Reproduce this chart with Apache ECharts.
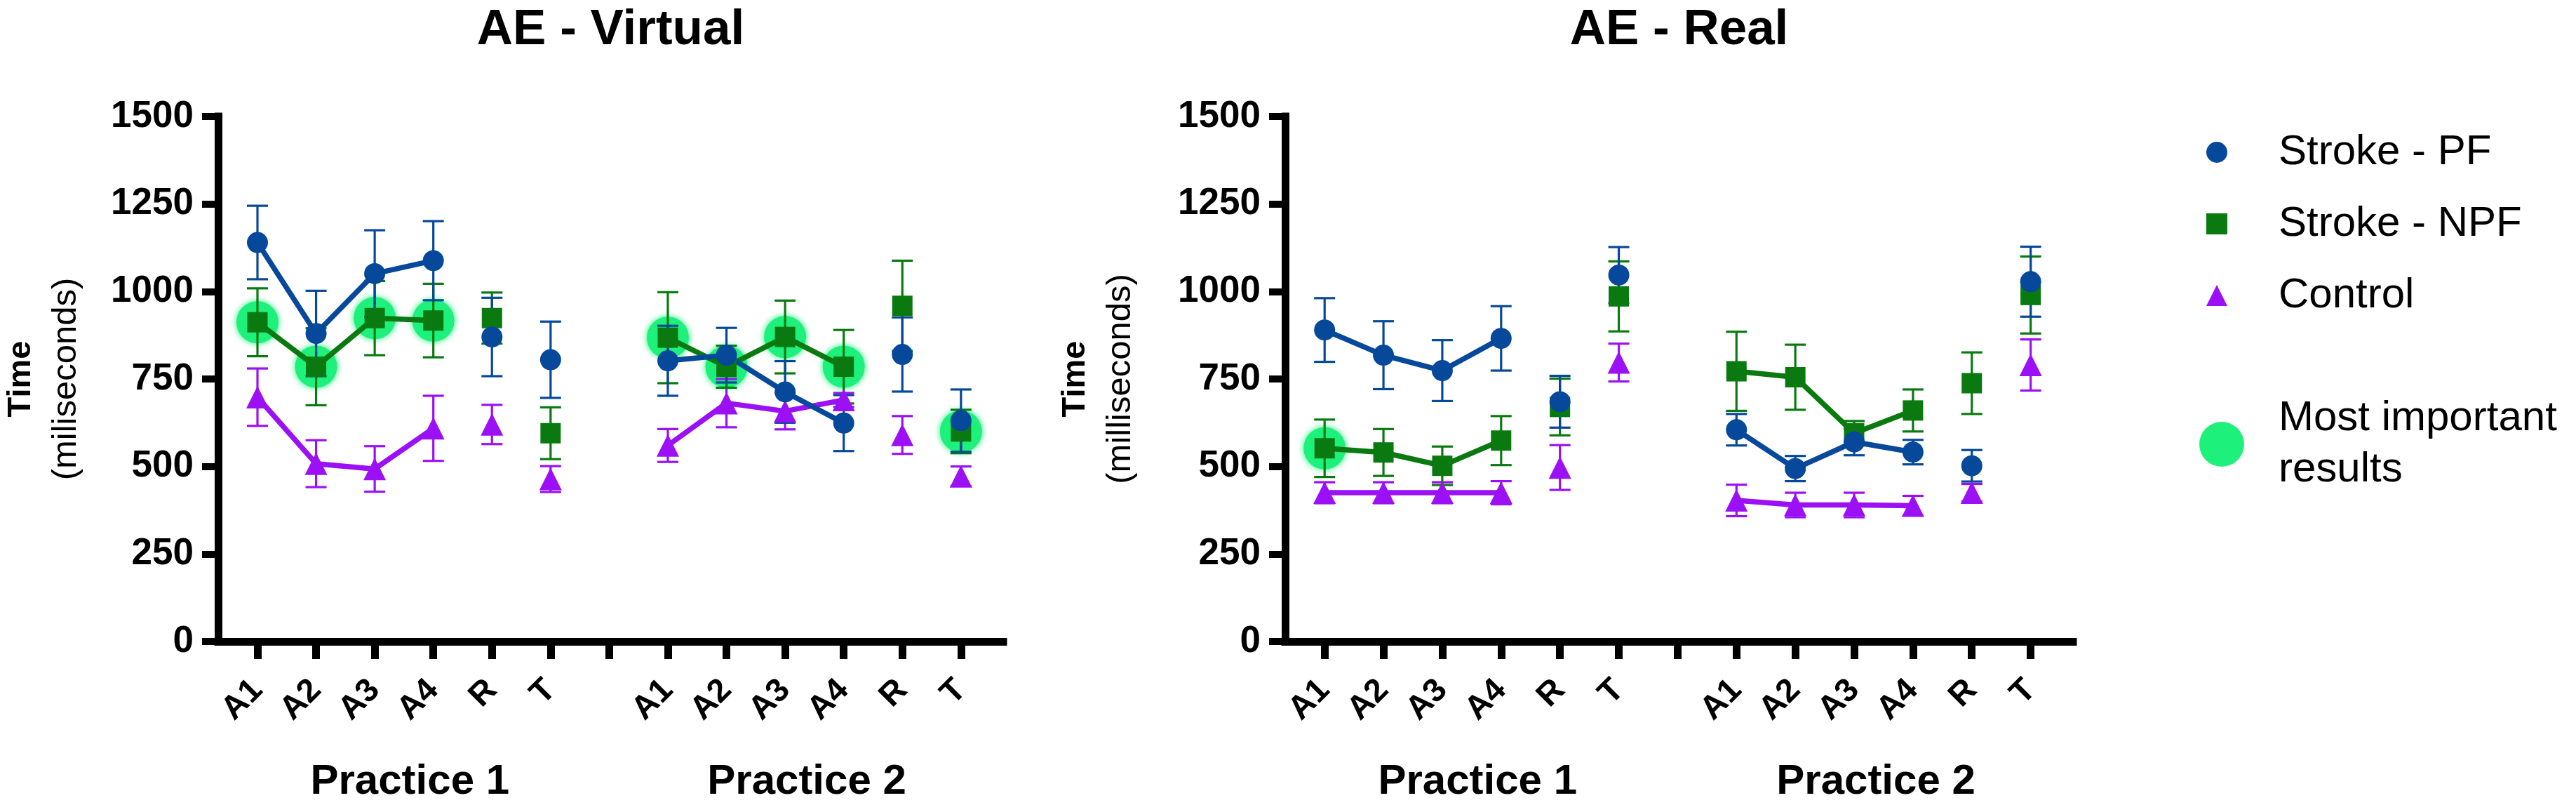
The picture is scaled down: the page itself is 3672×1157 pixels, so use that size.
<!DOCTYPE html>
<html><head><meta charset="utf-8">
<script src="https://cdn.jsdelivr.net/npm/echarts@6/dist/echarts.min.js"></script>
<style>html,body{margin:0;padding:0;background:#fff}#c{width:3672px;height:1157px}</style>
</head><body><div id="c"></div>
<script>
// ---------- data ----------
const timepoints = ['A1', 'A2', 'A3', 'A4', 'R', 'T'];
const practices = ['Practice 1', 'Practice 2'];
const groupNames = ['Stroke - PF', 'Stroke - NPF', 'Control'];
const highlightName = 'Most important results';
const chartTitles = ['AE - Virtual', 'AE - Real'];
const yAxisUnits = ['(miliseconds)', '(milliseconds)'];
const yAxisTitle = 'Time';

// values ordered Practice 1 A1..T then Practice 2 A1..T (mean, SEM)
const virtualPF      = [1140, 880, 1051, 1088, 870, 805,  802, 818, 713, 624, 820, 631];
const virtualPFErr   = [ 105, 122,  124,  113, 112, 109,  100,  78,  88,  80, 106,  89];
const virtualNPF     = [ 912, 785,  924,  917, 924, 595,  868, 785, 870, 785, 959, 600];
const virtualNPFErr  = [  97, 110,  106,  105,  73,  74,  130,  60, 104, 105, 129,  62];
const virtualCtrl    = [ 698, 508,  493,  609, 620, 464,  560, 681, 658, 690, 590, 472];
const virtualCtrlErr = [  82,  67,   65,   93,  56,  37,   47,  69,  52,  20,  54,  28];
const virtualHighlight = [0, 1, 2, 3, 6, 7, 8, 9, 11]; // Stroke - NPF points marked

const realPF      = [890, 818, 774, 866, 685, 1047,  605, 494, 570, 541, 502, 1028];
const realPFErr   = [ 91,  97,  87,  92,  74,   80,   45,  36,  38,  35,  45,  100];
const realNPF     = [552, 540, 502, 574, 670,  986,  772, 755, 595, 660, 738,  990];
const realNPFErr  = [ 82,  67,  55,  70,  81,  100,  113,  93,  35,  60,  88,  110];
const realCtrl    = [425, 425, 425, 425, 497,  797,  403, 390, 390, 388, 425,  790];
const realCtrlErr = [ 30,  30,  30,  33,  64,   54,   45,  35,  35,  28,  25,   73];
const realHighlight = [0];

// ---------- styling ----------
const FONT = '"Liberation Sans", Arial, sans-serif';
const groupColors = ['#06489a', '#0a7a10', '#9b10f5'];
const groupSymbols = ['circle', 'rect', 'triangle'];
const groupSymbolSize = [30, 29, 32];
const hlColor = '#1ef07c';

const charts = [
  { title: chartTitles[0], unit: yAxisUnits[0],
    groups: [[virtualPF, virtualPFErr], [virtualNPF, virtualNPFErr], [virtualCtrl, virtualCtrlErr]],
    hl: virtualHighlight, left: 311, width: 1119, nameGap: 185 },
  { title: chartTitles[1], unit: yAxisUnits[1],
    groups: [[realPF, realPFErr], [realNPF, realNPFErr], [realCtrl, realCtrlErr]],
    hl: realHighlight, left: 1832, width: 1123, nameGap: 203 }
];

const n = timepoints.length;
function xPos(i) { return i < n ? i : i + 1; }   // one empty slot between practices
const X_MIN = -0.67, X_MAX = 12.72;
const tickVals = []; for (let i = 0; i <= 2 * n; i++) tickVals.push(i);
const labelVals = []; for (let i = 0; i < 2 * n; i++) labelVals.push(xPos(i));
function labelFor(v) { const i = v < n ? v : v - 1; return timepoints[Math.round(i) % n]; }
const practiceCenters = [(xPos(0) + xPos(n - 1)) / 2 + 0.1, (xPos(n) + xPos(2 * n - 1)) / 2 - 0.13];

function lineData(vals) {
  const out = [];
  vals.forEach((v, i) => {
    out.push([xPos(i), v]);
    if (i % n >= 3) out.push([xPos(i) + 0.5, '-']); // lines join A1..A4 only
  });
  return out;
}

function renderErr(params, api) {
  const x = api.value(0), y = api.value(1), e = api.value(2);
  const top = api.coord([x, y + e]), bot = api.coord([x, y - e]);
  const hw = 15;
  const style = { stroke: api.visual('color'), lineWidth: 3.2, fill: null };
  return { type: 'group', children: [
    { type: 'line', shape: { x1: top[0], y1: top[1], x2: bot[0], y2: bot[1] }, style },
    { type: 'line', shape: { x1: top[0] - hw, y1: top[1], x2: top[0] + hw, y2: top[1] }, style },
    { type: 'line', shape: { x1: bot[0] - hw, y1: bot[1], x2: bot[0] + hw, y2: bot[1] }, style }
  ]};
}

const grid = [], xAxis = [], yAxis = [], series = [], title = [];
charts.forEach((c, g) => {
  grid.push({ left: c.left, width: c.width, top: 166, bottom: 243, containLabel: false });
  title.push({ text: c.title, left: c.left + c.width / 2, top: 8, padding: 0, textAlign: 'center',
    textStyle: { fontSize: 71, fontWeight: 'bold', color: '#000', fontFamily: FONT } });
  xAxis.push({
    type: 'value', gridIndex: g, min: X_MIN, max: X_MAX, position: 'bottom',
    axisLine: { show: true, onZero: false, lineStyle: { color: '#000', width: 11, cap: 'square' } },
    axisTick: { show: true, customValues: tickVals, length: 25, lineStyle: { color: '#000', width: 11 } },
    axisLabel: { show: true, customValues: labelVals, formatter: labelFor, rotate: 45,
      fontSize: 47, fontWeight: 'bold', color: '#000', fontFamily: FONT, margin: 62 },
    splitLine: { show: false }
  });
  xAxis.push({
    type: 'value', gridIndex: g, min: X_MIN, max: X_MAX, position: 'bottom',
    axisLine: { show: false }, axisTick: { show: false }, splitLine: { show: false },
    axisLabel: { show: true, customValues: practiceCenters,
      formatter: v => (v < n ? practices[0] : practices[1]),
      fontSize: 60, fontWeight: 'bold', color: '#000', fontFamily: FONT, margin: 200, verticalAlign: 'middle' }
  });
  yAxis.push({
    type: 'value', gridIndex: g, min: 0, max: 1500, interval: 250,
    axisLine: { show: true, onZero: false, lineStyle: { color: '#000', width: 11, cap: 'square' } },
    axisTick: { show: true, length: 23, lineStyle: { color: '#000', width: 10 } },
    axisLabel: { fontSize: 53, fontWeight: 'bold', color: '#000', fontFamily: FONT, margin: 35, formatter: v => String(v) },
    splitLine: { show: false },
    name: '{t|' + yAxisTitle + '}\n{s|' + c.unit + '}', nameLocation: 'middle', nameRotate: 90, nameGap: c.nameGap,
    nameTextStyle: { rich: {
      t: { fontSize: 47, fontWeight: 'bold', lineHeight: 64, color: '#000', fontFamily: FONT },
      s: { fontSize: 49, lineHeight: 64, color: '#000', fontFamily: FONT } } }
  });

  const npf = c.groups[1][0];
  series.push({
    type: 'scatter', name: highlightName, xAxisIndex: 2 * g, yAxisIndex: g, z: 1, silent: true,
    symbol: 'circle', symbolSize: 60,
    itemStyle: { color: hlColor, shadowBlur: 10, shadowColor: hlColor, opacity: 1 },
    data: c.hl.map(i => [xPos(i), npf[i]])
  });
  // error bars first (under all markers); draw Control, NPF, PF so PF ends on top
  [2, 1, 0].forEach(j => {
    const [vals, errs] = c.groups[j];
    series.push({
      type: 'custom', name: groupNames[j] + ' SEM', xAxisIndex: 2 * g, yAxisIndex: g, z: 2, silent: true,
      itemStyle: { color: groupColors[j] }, renderItem: renderErr,
      encode: { x: 0, y: 1 },
      data: vals.map((v, i) => [xPos(i), v, errs[i]])
    });
  });
  [2, 1, 0].forEach(j => {
    const [vals] = c.groups[j];
    series.push({
      type: 'line', name: groupNames[j], xAxisIndex: 2 * g, yAxisIndex: g, z: 3,
      showSymbol: true, symbol: groupSymbols[j], symbolSize: groupSymbolSize[j], connectNulls: false,
      itemStyle: { color: groupColors[j] }, lineStyle: { color: groupColors[j], width: 7.5 },
      emphasis: { disabled: true },
      data: lineData(vals)
    });
  });
});

const legend = [
  { orient: 'vertical', left: 3145, top: 187, padding: 0, itemGap: 42, itemWidth: 30, itemHeight: 30,
    selectedMode: false,
    data: groupNames.map((nm, j) => ({ name: nm, icon: groupSymbols[j] })),
    textStyle: { fontSize: 60, lineHeight: 60, color: '#000', fontFamily: FONT, padding: [0, 0, 0, 68] } },
  { orient: 'vertical', left: 3135, top: 560, padding: 0, itemWidth: 64, itemHeight: 64,
    selectedMode: false,
    data: [{ name: highlightName, icon: 'circle' }],
    formatter: nm => nm.replace(' results', '\nresults'),
    textStyle: { fontSize: 60, lineHeight: 73, color: '#000', fontFamily: FONT, padding: [0, 0, 0, 44] } }
];

const chart = echarts.init(document.getElementById('c'), null, { renderer: 'canvas' });
chart.setOption({ animation: false, backgroundColor: '#fff', title, legend, grid, xAxis, yAxis, series });
</script>
</body></html>
